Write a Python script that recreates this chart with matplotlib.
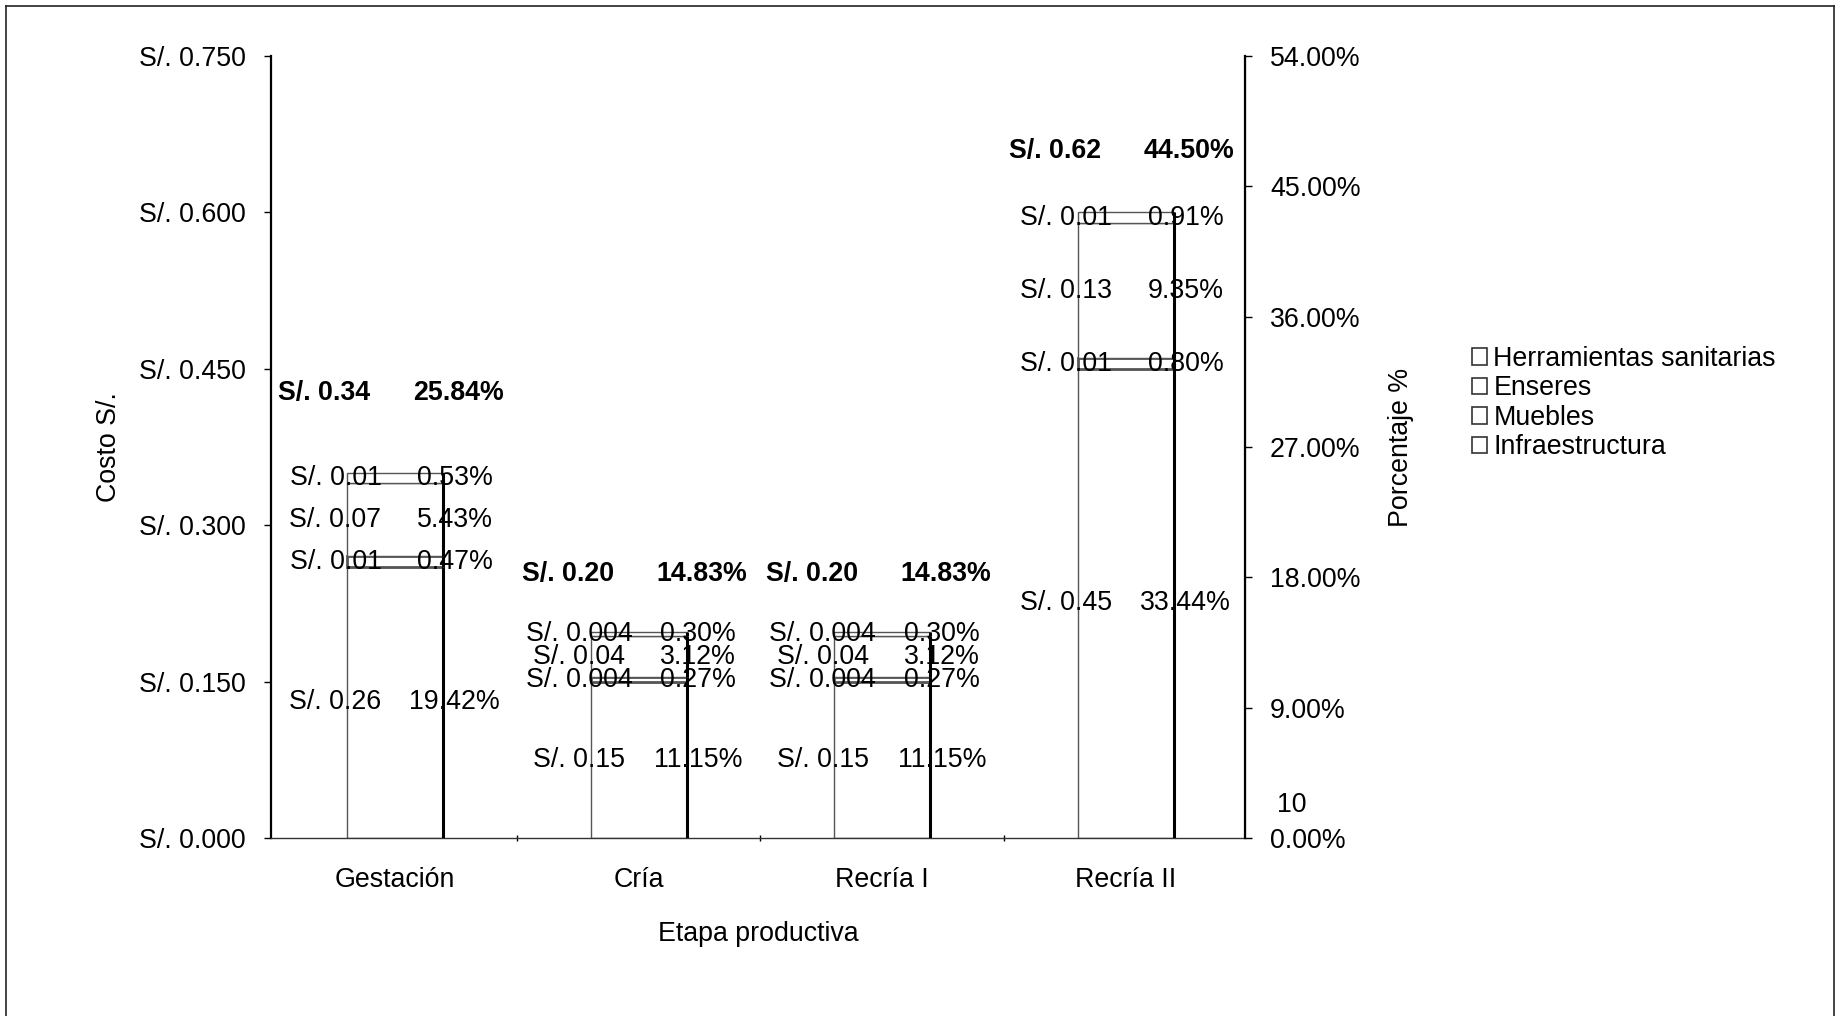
import matplotlib
matplotlib.use("Agg")
import matplotlib.pyplot as plt
from matplotlib.lines import Line2D
from matplotlib.patches import Patch
from matplotlib.ticker import FuncFormatter, FixedLocator

plt.rcParams['font.family'] = ['Liberation Sans', 'DejaVu Sans']

# ---- data ----
stages = ["Gestación", "Cría", "Recría I", "Recría II"]
components = ["Infraestructura", "Muebles", "Enseres", "Herramientas sanitarias"]

cost_infraestructura = [0.26, 0.15, 0.15, 0.45]
cost_muebles = [0.01, 0.004, 0.004, 0.01]
cost_enseres = [0.07, 0.04, 0.04, 0.13]
cost_herramientas = [0.01, 0.004, 0.004, 0.01]

pct_infraestructura = [19.42, 11.15, 11.15, 33.44]
pct_muebles = [0.47, 0.27, 0.27, 0.80]
pct_enseres = [5.43, 3.12, 3.12, 9.35]
pct_herramientas = [0.53, 0.30, 0.30, 0.91]

total_cost = [0.34, 0.20, 0.20, 0.62]
total_pct = [25.84, 14.83, 14.83, 44.50]

cost_ticks = [0.0, 0.15, 0.30, 0.45, 0.60, 0.75]
pct_ticks = [0, 9, 18, 27, 36, 45, 54]

# ---- layout ----
FS = 19.3
bar_width = 0.395
label_dx = 0.245
total_dx_left = 0.29
total_dx_right = 0.26
total_dy = [0.077, 0.055, 0.055, 0.059]

fig = plt.figure(figsize=(18.38, 10.16), dpi=100)
ax = fig.add_axes([0.1474, 0.1752, 0.530, 0.7697])
ax2 = ax.twinx()

x = list(range(len(stages)))
series_cost = [cost_infraestructura, cost_muebles, cost_enseres, cost_herramientas]
series_pct = [pct_infraestructura, pct_muebles, pct_enseres, pct_herramientas]

bottoms = [0.0] * len(stages)
for name, costs, pcts in zip(components, series_cost, series_pct):
    lw = 2.0 if name == "Muebles" else 1.0
    bars = ax.bar(x, costs, bar_width, bottom=bottoms, facecolor="white",
                  edgecolor="#555555", linewidth=lw, zorder=2, label=name)
    for i, (b, c, p) in enumerate(zip(bars, costs, pcts)):
        # heavier right edge of each stacked segment
        xr = b.get_x() + b.get_width()
        ax.plot([xr, xr], [b.get_y(), b.get_y() + b.get_height()],
                color="black", lw=2.2, zorder=3, solid_capstyle="butt")
        yc = b.get_y() + b.get_height() / 2
        txt = f"S/. {c:.3f}" if c < 0.005 else f"S/. {c:.2f}"
        ax.text(i - label_dx, yc, txt, ha="center", va="center", fontsize=FS,
                zorder=4)
        ax.text(i + label_dx, yc, f"{p:.2f}%", ha="center", va="center",
                fontsize=FS, zorder=4)
    bottoms = [bt + c for bt, c in zip(bottoms, costs)]

# totals above each bar
for i, (tc, tp) in enumerate(zip(total_cost, total_pct)):
    y = bottoms[i] + total_dy[i]
    ax.text(i - total_dx_left, y, f"S/. {tc:.2f}", ha="center", va="center",
            fontsize=FS, fontweight="bold")
    ax.text(i + total_dx_right, y, f"{tp:.2f}%", ha="center", va="center",
            fontsize=FS, fontweight="bold")

# ---- axes ----
ax.set_xlim(-0.51, 3.49)
ax.set_ylim(0, 0.75)
ax.yaxis.set_major_locator(FixedLocator(cost_ticks))
ax.yaxis.set_major_formatter(FuncFormatter(lambda v, _: f"S/. {v:.3f}"))
ax.set_xticks(x)
ax.set_xticklabels(stages, fontsize=FS)
ax.xaxis.set_minor_locator(FixedLocator([0.5, 1.5, 2.5]))
ax.tick_params(axis="x", which="major", length=0, pad=21)
ax.tick_params(axis="x", which="minor", length=5, direction="inout", width=1)
ax.tick_params(axis="y", labelsize=FS, length=5, width=1, pad=13)

ax2.set_ylim(0, 54)
ax2.yaxis.set_major_locator(FixedLocator(pct_ticks))
ax2.yaxis.set_major_formatter(FuncFormatter(lambda v, _: f"{v:.2f}%"))
ax2.tick_params(axis="y", labelsize=FS, length=5, width=1, pad=13)

for a in (ax, ax2):
    a.spines["top"].set_visible(False)
ax.spines["left"].set_linewidth(1.6)
ax.spines["bottom"].set_linewidth(1.0)
ax.spines["bottom"].set_color("#333333")
ax2.spines["right"].set_linewidth(1.6)
ax2.spines["left"].set_visible(False)
ax2.spines["bottom"].set_visible(False)

ax.set_ylabel("Costo S/.", fontsize=FS, labelpad=12)
ax2.set_ylabel("Porcentaje %", fontsize=FS, labelpad=20)
ax.set_xlabel("Etapa productiva", fontsize=FS, labelpad=20)

# stray mark beside the percentage axis
fig.text(1277 / 1838, 1 - 805 / 1016, "10", fontsize=FS, ha="left", va="center")

# ---- legend ----
handles = [Patch(facecolor="white", edgecolor="#333333", linewidth=1.2, label=n)
           for n in reversed(components)]
fig.legend(handles=handles, loc="upper left",
           bbox_to_anchor=(1472 / 1838, 1 - 346 / 1016), frameon=False,
           fontsize=FS, handlelength=0.55, handleheight=0.55, handletextpad=0.25,
           labelspacing=0.13, borderaxespad=0, borderpad=0)

# ---- outer frame ----
frame_kw = dict(color="#222222", lw=1.2, transform=fig.transFigure)
fig.add_artist(Line2D([0.003, 0.003], [0.0, 0.994], **frame_kw))
fig.add_artist(Line2D([0.003, 0.998], [0.994, 0.994], **frame_kw))
fig.add_artist(Line2D([0.998, 0.998], [0.0, 0.994], **frame_kw))

fig.savefig("out.png", dpi=100, facecolor="white")
